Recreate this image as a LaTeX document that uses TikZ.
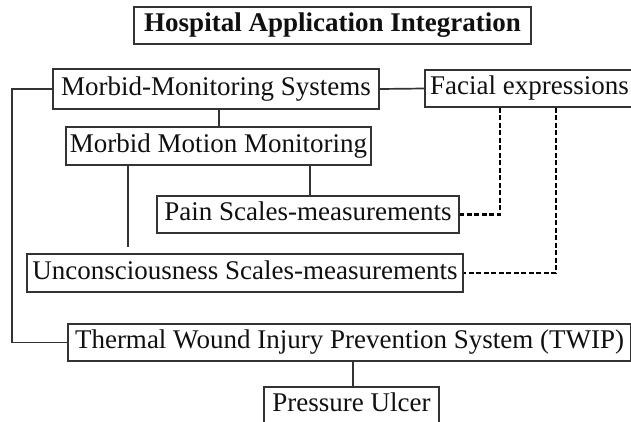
\documentclass[tikz,border=0pt]{standalone}
\usepackage{fontspec}
\setmainfont{Liberation Serif}
\definecolor{boxgray}{HTML}{333333}
\definecolor{txt}{HTML}{101010}
\begin{document}
\begin{tikzpicture}[x=1pt,y=-1pt,
  box/.style={draw=boxgray, line width=1.8pt, inner sep=0pt, text=txt,
    font=\fontsize{27}{31}\selectfont, text height=18.5pt, text depth=6pt},
  conn/.style={draw=boxgray, line width=1.7pt},
  dashline/.style={draw=black, line width=2.3pt, dash pattern=on 5pt off 2.5pt}]
\useasboundingbox (0,0) rectangle (631,421);
\node[box, font=\fontsize{27}{31}\selectfont\bfseries, minimum width=397pt, minimum height=37pt] (title) at (332.5,25.5) {Hospital Application Integration};
\node[box, minimum width=326pt, minimum height=40pt] (mms) at (216,89) {Morbid-Monitoring Systems};
\node[box, minimum width=209pt, minimum height=37pt] (fe) at (529.5,88.5) {Facial expressions};
\node[box, minimum width=305pt, minimum height=38pt] (mmm) at (218.5,146) {Morbid Motion Monitoring};
\node[box, minimum width=302pt, minimum height=37pt] (pain) at (308,214.5) {Pain Scales-measurements};
\node[box, minimum width=436pt, minimum height=38pt] (unc) at (245,273) {Unconsciousness Scales-measurements};
\node[box, minimum width=563pt, minimum height=37pt] (twip) at (349.5,342.5) {Thermal Wound Injury Prevention System (TWIP)};
\node[box, minimum width=175pt, minimum height=37pt] (pu) at (351.5,405.5) {Pressure Ulcer};
\coordinate (lft) at (12,89);
\coordinate (uncend) at (128,247);
\coordinate (painx) at (310,0);
\coordinate (mmsx) at (219,0);
\coordinate (d1) at (500,0);
\coordinate (d2) at (556,0);
\coordinate (pux) at (353,0);
\draw[conn] (mms.east) -- (fe.west);
\draw[conn] (mms.west) -- (lft) |- (twip.west);
\draw[conn] (mms.south -| mmsx) -- (mmm.north -| mmsx);
\draw[conn] (mmm.south -| uncend) -- (uncend);
\draw[conn] (mmm.south -| painx) -- (pain.north -| painx);
\draw[conn] (twip.south -| pux) -- (pu.north -| pux);
\draw[dashline] (fe.south -| d1) |- (pain.east);
\draw[dashline] (fe.south -| d2) |- (unc.east);
\end{tikzpicture}
\end{document}
